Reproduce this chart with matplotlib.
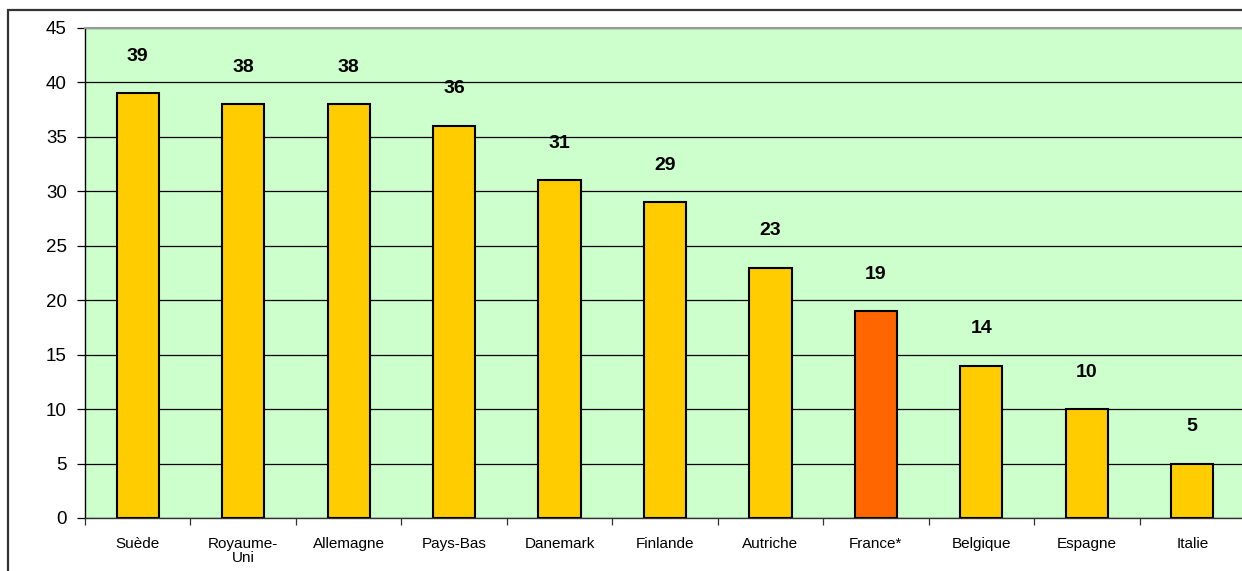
import matplotlib
matplotlib.use("Agg")
import matplotlib.pyplot as plt
from matplotlib.patches import Rectangle

plt.rcParams["font.family"] = ["Liberation Sans", "DejaVu Sans"]

countries = ["Suède", "Royaume-\nUni", "Allemagne", "Pays-Bas", "Danemark",
             "Finlande", "Autriche", "France*", "Belgique", "Espagne", "Italie"]
values = [39, 38, 38, 36, 31, 29, 23, 19, 14, 10, 5]
highlight = "France*"

bar_color = "#FFCC00"
hi_color = "#FF6600"
bg_color = "#CCFFCC"

fig = plt.figure(figsize=(12.42, 5.71), dpi=100)
W, H = 1242, 571
ax = fig.add_axes([85 / W, 1 - 518 / H, (1245 - 85) / W, (518 - 28) / H])
ax.set_facecolor(bg_color)

# outer chart frame (runs off the right and bottom edges)
fig.patches.append(Rectangle((8 / W, -0.1), 1.2, 1 - 10 / H + 0.1,
                             transform=fig.transFigure, fill=False,
                             edgecolor="#333333", linewidth=1.6, zorder=0))

x = list(range(len(countries)))
colors = [hi_color if c == highlight else bar_color for c in countries]
ax.bar(x, values, width=0.4, color=colors, edgecolor="black", linewidth=1.5, zorder=3)

for xi, v in zip(x, values):
    ax.text(xi, v + 3.4, str(v), ha="center", va="center",
            fontsize=14, fontweight="bold", zorder=4)

ax.set_xlim(-0.5, len(countries) - 0.5)
ax.set_ylim(0, 45)
ax.set_yticks(range(0, 46, 5))
ax.yaxis.grid(True, color="black", linewidth=0.9, zorder=1)
ax.set_axisbelow(True)

ax.set_xticks(x)
ax.set_xticklabels(countries, fontsize=11, linespacing=1.0)
ax.set_xticks([i + 0.5 for i in range(-1, len(countries))], minor=True)
ax.tick_params(axis="x", which="major", length=0, pad=14)
ax.tick_params(axis="x", which="minor", length=5, width=0.9, color="#333333")
ax.tick_params(axis="y", length=6, width=0.9, labelsize=13.5, pad=7)

ax.spines["right"].set_visible(False)
ax.spines["top"].set_color("#999999")
ax.spines["top"].set_linewidth(1.5)
ax.spines["left"].set_color("black")
ax.spines["left"].set_linewidth(1.0)
ax.spines["bottom"].set_color("#333333")
ax.spines["bottom"].set_linewidth(1.0)

fig.savefig("out.png", dpi=100)
